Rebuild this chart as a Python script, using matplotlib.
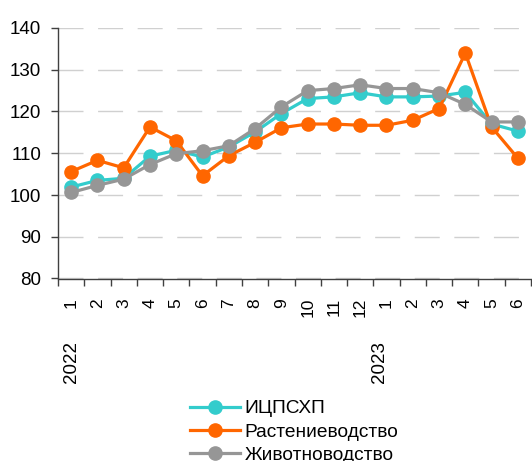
import matplotlib
matplotlib.use("Agg")
import matplotlib.pyplot as plt
import matplotlib.transforms as mtransforms

plt.rcParams['font.family'] = ['Liberation Sans', 'DejaVu Sans']

months = ["1", "2", "3", "4", "5", "6", "7", "8", "9", "10", "11", "12",
          "1", "2", "3", "4", "5", "6"]
years = ["2022", "2023"]
year_start_idx = [0, 12]

icpshp = [101.9, 103.5, 104.0, 109.3, 110.7, 109.1, 111.5, 115.1, 119.5, 123.1,
          123.5, 124.5, 123.5, 123.5, 123.7, 124.6, 117.0, 115.3]
rast = [105.6, 108.3, 106.5, 116.3, 113.0, 104.6, 109.4, 112.6, 116.1, 117.0,
        117.0, 116.7, 116.7, 117.9, 120.7, 134.0, 116.3, 108.8]
zhiv = [100.6, 102.3, 103.8, 107.3, 109.9, 110.6, 111.8, 115.9, 121.1, 125.0,
        125.5, 126.4, 125.5, 125.5, 124.5, 121.7, 117.5, 117.5]

series = [("ИЦПСХП", icpshp, "#33CCCC"),
          ("Растениеводство", rast, "#FF6600"),
          ("Животноводство", zhiv, "#969696")]

fig = plt.figure(figsize=(5.32, 4.61), dpi=100)
ax = fig.add_axes([58/532, 1 - 278.5/461, 473/532, 250.5/461])

x = list(range(len(months)))
for name, vals, col in series:
    ax.plot(x, vals, color=col, lw=2.3, marker='o', markersize=9.5,
            label=name, solid_joinstyle='round', zorder=3)

ax.set_xlim(-0.5, len(months) - 0.5)
ax.set_ylim(80, 140)
ax.set_yticks(range(80, 141, 10))
ax.yaxis.grid(True, color='#D0D0D0', lw=1.0, dashes=(18, 10.5))
ax.set_axisbelow(True)

for s in ['top', 'right']:
    ax.spines[s].set_visible(False)
for s in ['left', 'bottom']:
    ax.spines[s].set_color('#404040')
    ax.spines[s].set_linewidth(1.0)

ax.tick_params(axis='y', direction='out', length=5, width=1, color='#404040',
               labelsize=13.5, pad=7)
ax.set_xticks(x)
ax.set_xticklabels(months, rotation=90, fontsize=12.5)
ax.set_xticks([i - 0.5 for i in range(len(months) + 1)], minor=True)
ax.tick_params(axis='x', which='major', length=0, pad=14)
ax.tick_params(axis='x', which='minor', direction='out', length=5, width=1,
               color='#404040')

trans = mtransforms.blended_transform_factory(ax.transData, fig.transFigure)
for yr, idx in zip(years, year_start_idx):
    ax.text(idx - 0.25 if idx else idx, 1 - 383/461, yr, rotation=90, fontsize=13.5,
            ha='center', va='bottom', transform=trans)

leg = fig.legend(loc='upper left', bbox_to_anchor=(190/532, 1 - 400/461),
                 frameon=False, fontsize=13.8, handlelength=2.6,
                 handletextpad=0.25, labelspacing=0.3, borderaxespad=0,
                 borderpad=0)

fig.savefig("out.png", dpi=100)
